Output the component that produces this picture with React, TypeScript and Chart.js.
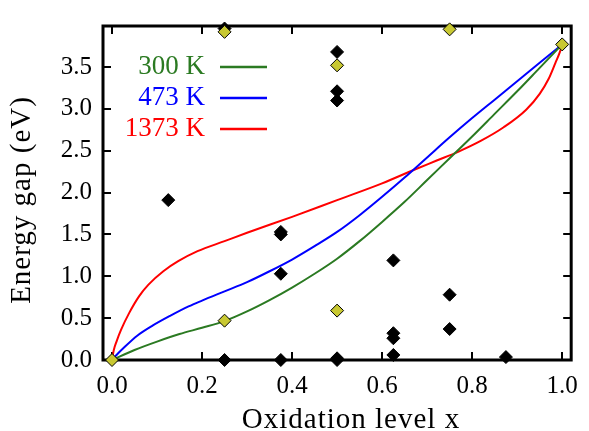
import React, { useEffect, useRef } from 'react';
import { Chart, registerables } from 'chart.js';

Chart.register(...registerables);

const xTickValues = [0, 0.2, 0.4, 0.6, 0.8, 1.0];
const yTickValues = [0, 0.5, 1.0, 1.5, 2.0, 2.5, 3.0, 3.5];

const x300 = [0, 0.05, 0.1, 0.15, 0.2, 0.25, 0.3, 0.35, 0.4, 0.45, 0.5, 0.55, 0.6, 0.65, 0.7, 0.75, 0.8, 0.85, 0.9, 0.95, 1.0];
const y300 = [0, 0.12, 0.22, 0.31, 0.385, 0.465, 0.58, 0.715, 0.865, 1.03, 1.21, 1.42, 1.65, 1.89, 2.15, 2.41, 2.67, 2.94, 3.21, 3.49, 3.77];

const x473 = [0, 0.01, 0.025, 0.056, 0.09, 0.13, 0.17, 0.2, 0.25, 0.3, 0.35, 0.4, 0.45, 0.5, 0.55, 0.6, 0.65, 0.7, 0.75, 0.8, 0.85, 0.9, 0.95, 1.0];
const y473 = [0, 0.06, 0.14, 0.29, 0.41, 0.53, 0.64, 0.71, 0.82, 0.93, 1.06, 1.2, 1.36, 1.53, 1.73, 1.95, 2.18, 2.42, 2.66, 2.89, 3.11, 3.33, 3.55, 3.77];

const x1373 = [0, 0.004, 0.01, 0.02, 0.038, 0.06, 0.081, 0.114, 0.147, 0.19, 0.25, 0.3, 0.4, 0.5, 0.6, 0.67, 0.72, 0.77, 0.82, 0.87, 0.92, 0.95, 0.97, 0.985, 0.995, 1.0];
const y1373 = [0, 0.12, 0.22, 0.36, 0.56, 0.76, 0.9, 1.06, 1.18, 1.3, 1.42, 1.52, 1.71, 1.91, 2.11, 2.27, 2.38, 2.49, 2.62, 2.78, 2.99, 3.18, 3.36, 3.55, 3.68, 3.77];

const blackX = [0.125, 0.25, 0.25, 0.375, 0.375, 0.375, 0.375, 0.5, 0.5, 0.5, 0.5, 0.5, 0.625, 0.625, 0.625, 0.625, 0.75, 0.75, 0.875];
const blackY = [1.91, 3.96, 0.0, 1.53, 1.5, 1.03, 0.0, 3.68, 3.21, 3.1, 0.02, 0.0, 1.19, 0.32, 0.26, 0.06, 0.78, 0.37, 0.035];

const yellowX = [0, 0.25, 0.25, 0.5, 0.5, 0.75, 1.0];
const yellowY = [0, 0.47, 3.92, 0.59, 3.52, 3.95, 3.77];

const seriesLabels = ['300 K', '473 K', '1373 K'];
const seriesColors = ['#2b7a22', '#0000ff', '#ff0000'];

const xTitle = 'Oxidation level x';
const yTitle = 'Energy gap (eV)';

const zip = (xs: number[], ys: number[]) => xs.map((x, i) => ({ x, y: ys[i] }));

const framePlugin = {
  id: 'frame',
  beforeDatasetsDraw(chart: any) {
    const { ctx, chartArea } = chart;
    const { left, right, top, bottom } = chartArea;
    const xs = chart.scales.x;
    const ys = chart.scales.y;
    ctx.save();
    ctx.strokeStyle = '#000';
    ctx.lineWidth = 2;
    const tl = 8;
    xTickValues.forEach((v) => {
      const px = Math.round(xs.getPixelForValue(v));
      ctx.beginPath();
      ctx.moveTo(px, bottom);
      ctx.lineTo(px, bottom - tl);
      ctx.moveTo(px, top);
      ctx.lineTo(px, top + tl);
      ctx.stroke();
    });
    yTickValues.forEach((v) => {
      const py = Math.round(ys.getPixelForValue(v));
      ctx.beginPath();
      ctx.moveTo(left, py);
      ctx.lineTo(left + tl, py);
      ctx.moveTo(right, py);
      ctx.lineTo(right - tl, py);
      ctx.stroke();
    });
    ctx.lineWidth = 3;
    ctx.strokeRect(left, top, right - left, bottom - top);
    ctx.restore();
  },
  afterDraw(chart: any) {
    const { ctx } = chart;
    ctx.save();
    ctx.font = '27px "Liberation Serif"';
    ctx.textAlign = 'right';
    ctx.textBaseline = 'middle';
    const rows = [67, 98, 129];
    seriesLabels.forEach((lab, i) => {
      ctx.fillStyle = seriesColors[i];
      ctx.fillText(lab, 205, rows[i]);
      ctx.strokeStyle = seriesColors[i];
      ctx.lineWidth = 2.5;
      ctx.beginPath();
      ctx.moveTo(220, rows[i]);
      ctx.lineTo(267, rows[i]);
      ctx.stroke();
    });
    ctx.fillStyle = '#000';
    ctx.font = '29px "Liberation Serif"';
    try { (ctx as any).letterSpacing = '1px'; } catch (e) {}
    ctx.textAlign = 'center';
    ctx.textBaseline = 'alphabetic';
    ctx.fillText(xTitle, 351, 428);
    ctx.save();
    ctx.translate(30, 200);
    ctx.rotate(-Math.PI / 2);
    ctx.fillText(yTitle, 0, 0);
    ctx.restore();
    ctx.restore();
  },
};

export default function App() {
  const ref = useRef<HTMLCanvasElement>(null);
  useEffect(() => {
    const canvas = ref.current;
    if (!canvas) return;
    const tickFont = { family: '"Liberation Serif"', size: 25 };
    const lineDs = (i: number, xs: number[], ys: number[]) => ({
      label: seriesLabels[i],
      data: zip(xs, ys),
      showLine: true,
      borderColor: seriesColors[i],
      borderWidth: 2,
      pointRadius: 0,
      cubicInterpolationMode: 'monotone',
      order: 2 + i,
    });
    const chart = new Chart(canvas, {
      type: 'scatter',
      data: {
        datasets: [
          {
            label: 'yellow',
            data: zip(yellowX, yellowY),
            pointStyle: 'rectRot',
            pointRadius: 6.5,
            pointBackgroundColor: '#c8c832',
            pointBorderColor: '#000',
            pointBorderWidth: 1,
            showLine: false,
            clip: false,
            order: 0,
          },
          {
            label: 'black',
            data: zip(blackX, blackY),
            pointStyle: 'rectRot',
            pointRadius: 6.5,
            pointBackgroundColor: '#000',
            pointBorderColor: '#000',
            pointBorderWidth: 1,
            showLine: false,
            clip: false,
            order: 1,
          },
          lineDs(0, x300, y300),
          lineDs(1, x473, y473),
          lineDs(2, x1373, y1373),
        ] as any,
      },
      options: {
        responsive: false,
        animation: false,
        devicePixelRatio: 1,
        layout: { padding: { top: 15, right: 10, left: 0, bottom: 0 } },
        plugins: { legend: { display: false }, tooltip: { enabled: false } },
        scales: {
          x: {
            type: 'linear',
            min: -0.02,
            max: 1.02,
            grid: { display: false, drawTicks: false },
            border: { display: false },
            afterBuildTicks: (s: any) => { s.ticks = xTickValues.map((v) => ({ value: v })); },
            afterFit: (s: any) => { s.height = 71; },
            ticks: {
              font: tickFont,
              color: '#000',
              padding: 11,
              maxRotation: 0,
              autoSkip: false,
              callback: (v: any) => Number(v).toFixed(1),
            },
          },
          y: {
            type: 'linear',
            min: 0,
            max: 3.99,
            grid: { display: false, drawTicks: false },
            border: { display: false },
            afterBuildTicks: (s: any) => { s.ticks = yTickValues.map((v) => ({ value: v })); },
            afterFit: (s: any) => { s.width = 103; },
            ticks: {
              font: tickFont,
              color: '#000',
              padding: 11,
              autoSkip: false,
              callback: (v: any) => Number(v).toFixed(1),
            },
          },
        },
      } as any,
      plugins: [framePlugin],
    });
    return () => chart.destroy();
  }, []);
  return (
    <div style={{ position: 'absolute', left: 0, top: 0, width: 589, height: 431 }}>
      <canvas ref={ref} width={589} height={431} style={{ display: 'block', width: 589, height: 431 }} />
    </div>
  );
}
